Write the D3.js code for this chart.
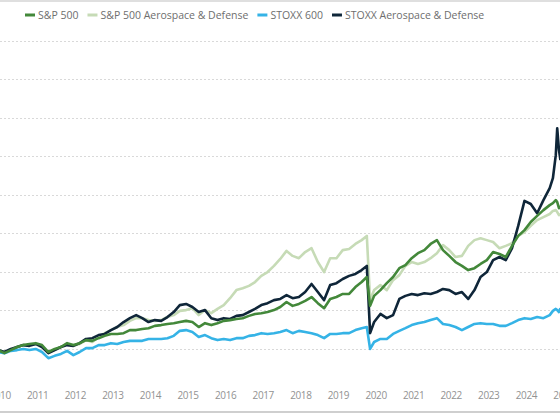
<!DOCTYPE html>
<html>
<head>
<meta charset="utf-8">
<script src="https://cdn.jsdelivr.net/npm/d3@7.9.0/dist/d3.min.js"></script>
<style>
  html, body { margin: 0; padding: 0; background: #fff; }
  svg { display: block; font-family: 'Open Sans', sans-serif; }
</style>
</head>
<body>
<svg id="chart" width="560" height="416"></svg>
<script>
// sample dates (roughly every two months, extra points around the 2020 crash and the 2025 spike)
const dates = [
  '2010-05-01','2010-07-01','2010-09-01','2010-11-01',
  '2011-01-01','2011-03-01','2011-05-01','2011-07-01','2011-09-01','2011-11-01',
  '2012-01-01','2012-03-01','2012-05-01','2012-07-01','2012-09-01','2012-11-01',
  '2013-01-01','2013-03-01','2013-05-01','2013-07-01','2013-09-01','2013-11-01',
  '2014-01-01','2014-03-01','2014-05-01','2014-07-01','2014-09-01','2014-11-01',
  '2015-01-01','2015-03-01','2015-05-01','2015-07-01','2015-09-01','2015-11-01',
  '2016-01-01','2016-03-01','2016-05-01','2016-07-01','2016-09-01','2016-11-01',
  '2017-01-01','2017-03-01','2017-05-01','2017-07-01','2017-09-01','2017-11-01',
  '2018-01-01','2018-03-01','2018-05-01','2018-07-01','2018-09-01','2018-11-01',
  '2019-01-01','2019-03-01','2019-05-01','2019-07-01','2019-09-01','2019-11-01',
  '2020-01-01','2020-02-20','2020-03-23','2020-05-01','2020-07-01','2020-09-01','2020-11-01',
  '2021-01-01','2021-03-01','2021-05-01','2021-07-01','2021-09-01','2021-11-01',
  '2022-01-01','2022-03-01','2022-05-01','2022-07-01','2022-09-01','2022-11-01',
  '2023-01-01','2023-03-01','2023-05-01','2023-07-01','2023-09-01','2023-11-01',
  '2024-01-01','2024-03-01','2024-05-01','2024-07-01','2024-09-01','2024-11-01',
  '2025-01-01','2025-02-01','2025-03-01','2025-03-15','2025-04-01','2025-04-15'
];

// index levels (start of 2010 = 100)
const sp500 = [
  96, 88, 96, 104,
  109, 112, 114, 109, 91, 99,
  104, 114, 109, 114, 122, 120,
  127, 133, 138, 138, 140, 148,
  148, 151, 153, 159, 161, 164,
  166, 169, 172, 169, 156, 166,
  161, 166, 172, 174, 177, 179,
  185, 190, 192, 195, 200, 208,
  221, 211, 216, 224, 234, 218,
  205, 229, 234, 242, 242, 260,
  273, 286, 211, 237, 252, 270, 286,
  309, 317, 335, 348, 356, 372,
  382, 356, 341, 325, 315, 304,
  309, 320, 330, 351, 346, 338,
  367, 393, 408, 429, 445, 460,
  473, 478, 486, 481, 465, 471
];

const sp500AD = [
  96, 91, 96, 104,
  109, 109, 112, 107, 88, 96,
  104, 112, 107, 112, 122, 117,
  130, 140, 148, 156, 161, 172,
  179, 179, 174, 172, 174, 182,
  187, 198, 200, 205, 187, 200,
  192, 203, 213, 231, 252, 257,
  263, 273, 289, 299, 315, 333,
  354, 341, 335, 351, 361, 325,
  299, 335, 335, 356, 359, 372,
  382, 393, 226, 252, 265, 252, 278,
  291, 315, 325, 320, 325, 335,
  348, 369, 356, 338, 341, 367,
  382, 387, 382, 377, 361, 367,
  374, 393, 403, 419, 434, 442,
  450, 458, 460, 455, 447, 450
];

const stoxx600 = [
  91, 88, 94, 96,
  99, 96, 99, 91, 75, 81,
  86, 94, 83, 91, 101, 101,
  109, 109, 114, 112, 117, 120,
  120, 120, 125, 125, 125, 127,
  133, 146, 148, 143, 130, 135,
  127, 122, 125, 122, 127, 127,
  133, 135, 140, 138, 140, 143,
  148, 140, 146, 143, 140, 135,
  127, 138, 138, 140, 140, 148,
  153, 156, 99, 117, 125, 125, 138,
  146, 153, 161, 166, 169, 174,
  179, 164, 161, 156, 148, 156,
  164, 166, 164, 164, 159, 159,
  166, 174, 179, 177, 182, 179,
  187, 198, 203, 200, 195, 205
];

const stoxxAD = [
  96, 91, 99, 104,
  109, 107, 112, 104, 88, 96,
  104, 109, 107, 114, 125, 127,
  135, 138, 148, 156, 169, 179,
  187, 179, 169, 174, 172, 182,
  195, 213, 216, 208, 195, 200,
  179, 174, 179, 177, 185, 187,
  195, 203, 213, 218, 226, 229,
  239, 231, 234, 247, 268, 247,
  226, 265, 270, 281, 289, 294,
  304, 315, 140, 169, 190, 179, 187,
  229, 237, 242, 239, 244, 242,
  247, 255, 252, 242, 247, 229,
  252, 286, 299, 330, 338, 330,
  361, 419, 484, 476, 452, 486,
  517, 543, 603, 673, 616, 590
];

const seriesNames = ['S&P 500', 'S&P 500 Aerospace & Defense', 'STOXX 600', 'STOXX Aerospace & Defense'];
const seriesColors = ['#43883a', '#c6dbb6', '#35b3e6', '#0f2639'];
const yearLabels = ['2010','2011','2012','2013','2014','2015','2016','2017','2018','2019','2020','2021','2022','2023','2024','2025'];
const gridValues = [100, 200, 300, 400, 500, 600, 700, 800, 900];

const width = 560;
const height = 416;
const parse = d3.timeParse('%Y-%m-%d');
const dateObjs = dates.map(parse);

const svg = d3.select('#chart');

let x = d3.scaleTime()
  .domain([new Date(2010, 4, 19), new Date(2025, 3, 11)])
  .range([0, width]);

let y = d3.scaleLinear()
  .domain([0, 1000])
  .range([387, 2.5]);

// frame lines
svg.append('line')
  .attr('x1', 0).attr('x2', width)
  .attr('y1', 1).attr('y2', 1)
  .attr('stroke', '#d4d4d4')
  .attr('stroke-width', 1.5);

svg.append('line')
  .attr('x1', 0).attr('x2', width)
  .attr('y1', 412).attr('y2', 412)
  .attr('stroke', '#cfcfcf')
  .attr('stroke-width', 2);

// dotted gridlines
svg.append('g')
  .selectAll('line')
  .data(gridValues)
  .join('line')
  .attr('x1', 0).attr('x2', width)
  .attr('y1', (d) => Math.round(y(d)) + 0.5)
  .attr('y2', (d) => Math.round(y(d)) + 0.5)
  .attr('stroke', '#d9d9d9')
  .attr('stroke-dasharray', '2,2');

// x axis labels (no line, no ticks)
let xAxis = d3.axisBottom(x)
  .tickValues(yearLabels.map((yr) => new Date(+yr, 4, 15)))
  .tickFormat(d3.timeFormat('%Y'))
  .tickSize(0)
  .tickPadding(0);

let axisG = svg.append('g')
  .attr('transform', 'translate(0,392)')
  .call(xAxis);
axisG.select('.domain').remove();
axisG.selectAll('text')
  .attr('fill', '#929292')
  .attr('font-size', '10px')
  .attr('font-family', "'Open Sans', sans-serif")
  .attr('letter-spacing', '-0.4px');

// lines
let line = d3.line()
  .x((d, i) => x(dateObjs[i]))
  .y((d) => y(d));

const allSeries = [sp500, sp500AD, stoxx600, stoxxAD];
const drawOrder = [1, 2, 3, 0];

drawOrder.forEach((idx) => {
  svg.append('path')
    .datum(allSeries[idx])
    .attr('d', line)
    .attr('fill', 'none')
    .attr('stroke', seriesColors[idx])
    .attr('stroke-width', 2.6)
    .attr('stroke-linejoin', 'round');
});

// legend
let legend = svg.append('g').attr('transform', 'translate(25,15)');
let cursor = 0;
seriesNames.forEach((name, idx) => {
  legend.append('line')
    .attr('x1', cursor).attr('x2', cursor + 10)
    .attr('y1', 0).attr('y2', 0)
    .attr('stroke', seriesColors[idx])
    .attr('stroke-width', 3);
  let t = legend.append('text')
    .attr('x', cursor + 13)
    .attr('y', 4)
    .attr('fill', '#6e6e6e')
    .attr('font-size', '10.5px')
    .text(name);
  cursor += 13 + t.node().getComputedTextLength() + 9;
});
</script>
</body>
</html>
